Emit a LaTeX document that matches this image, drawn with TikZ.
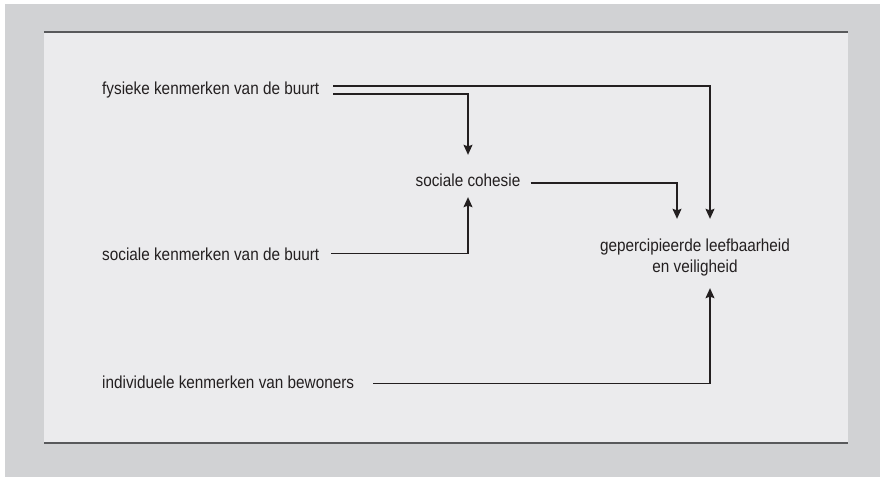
\documentclass[tikz,border=0pt]{standalone}
\usepackage{fontspec}
\setmainfont{Liberation Sans}[FakeStretch=0.88]
\usepackage{tikz}
\usetikzlibrary{arrows.meta}
\definecolor{outergray}{HTML}{D1D2D4}
\definecolor{panelgray}{HTML}{EBEBED}
\definecolor{rulegray}{HTML}{58595B}
\definecolor{inkdark}{HTML}{231F20}

\begin{document}
\begin{tikzpicture}[x=1pt, y=1pt,
        lbl/.style={inner sep=0pt, anchor=base west, text=inkdark, font=\fontsize{17.4}{21}\selectfont},
        link/.style={draw=inkdark, line width=1.1pt, -{Stealth[length=10pt, width=9pt, inset=1.5pt]}}]
        \useasboundingbox (0, 0) rectangle (880, 477);
        \fill[outergray] (5, 0) rectangle (880, 473);
        \fill[panelgray] (44, 34) rectangle (848, 445);
        \draw[rulegray, line width=1.4pt] (44, 445) -- (848, 445);
        \draw[rulegray, line width=1.4pt] (44, 34) -- (848, 34);

        \node[lbl] (fys) at (102, 382) {fysieke kenmerken van de buurt};
        \node[lbl] (soc) at (102, 217) {sociale kenmerken van de buurt};
        \node[lbl] (ind) at (102, 89) {individuele kenmerken van bewoners};
        \node[lbl, anchor=base, text height=32pt, text depth=10pt] (coh) at (468, 290) {sociale cohesie};
        \node[lbl, anchor=center, align=center, minimum height=78pt] (gep) at (695, 219) {gepercipieerde leefbaarheid\\en veiligheid};

        \draw[link] ([xshift=14pt, yshift=9pt]fys.base east) -| ([xshift=15pt]gep.north);
        \draw[link] ([xshift=14pt, yshift=1pt]fys.base east) -| (coh.north);
        \draw[link] ([xshift=12pt, yshift=6.5pt]soc.base east) -| (coh.south);
        \draw[link] ([xshift=10pt, yshift=4pt]coh.base east) -| ([xshift=-18pt]gep.north);
        % bewoners komen van onder binnen
        \draw[link] ([xshift=19pt, yshift=4.5pt]ind.base east) -| ([xshift=15pt, yshift=9pt]gep.south);
    \end{tikzpicture}
\end{document}
